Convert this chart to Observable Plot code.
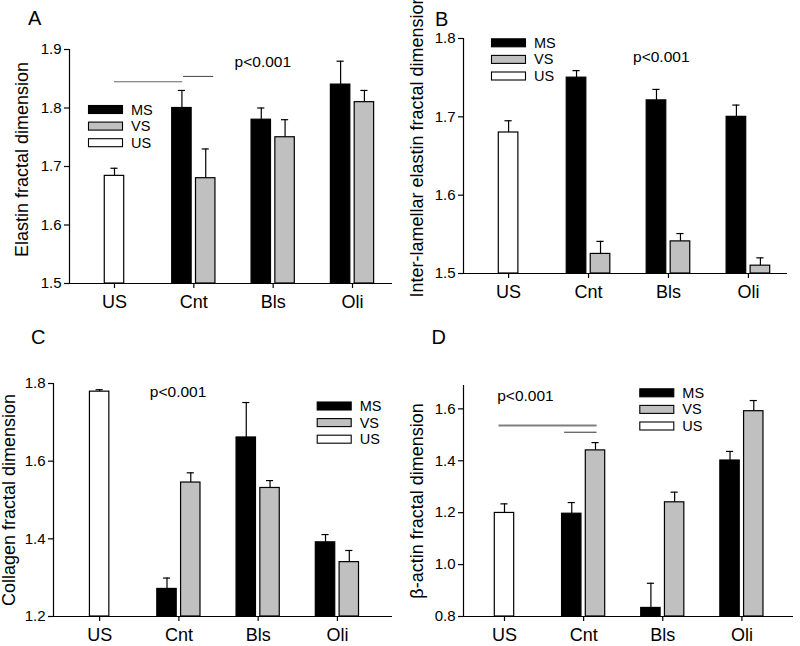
<!DOCTYPE html>
<html><head><meta charset="utf-8">
<script src="https://cdn.jsdelivr.net/npm/d3@7"></script>
<script src="https://cdn.jsdelivr.net/npm/@observablehq/plot@0.6"></script>
<style>
body{margin:0;background:#fff;font-family:"Liberation Sans",Arial,sans-serif;}
#wrap{position:relative;width:800px;height:646px;overflow:hidden;background:#fff;}
.panel{position:absolute;}
#overlay{position:absolute;left:0;top:0;pointer-events:none;}
</style></head><body><div id="wrap"></div>
<script>
// ---------- data ----------
const categories = ["US", "Cnt", "Bls", "Oli"];
const groups = ["MS", "VS", "US"];
const pLabel = "p<0.001";

// Panel A: Elastin
const aUS = 1.684, aUSerr = 1.697;
const aMS = [1.80, 1.78, 1.84], aMSerr = [1.83, 1.80, 1.88];
const aVS = [1.68, 1.75, 1.81], aVSerr = [1.73, 1.78, 1.83];
const aTicks = [1.5, 1.6, 1.7, 1.8, 1.9];
const aSig = [{x1: 0, x2: 0.86, y: 1.845}, {x1: 0.87, x2: 1.25, y: 1.854}];
const aP = {x: 1.87, y: 1.878};

// Panel B: Inter-lamellar elastin
const bUS = 1.680, bUSerr = 1.695;
const bMS = [1.750, 1.721, 1.700], bMSerr = [1.759, 1.735, 1.715];
const bVS = [1.525, 1.541, 1.510], bVSerr = [1.541, 1.551, 1.520];
const bTicks = [1.5, 1.6, 1.7, 1.8];
const bSig = [];
const bP = {x: 1.91, y: 1.776};

// Panel C: Collagen
const cUS = 1.779, cUSerr = 1.784;
const cMS = [1.271, 1.661, 1.391], cMSerr = [1.299, 1.751, 1.411];
const cVS = [1.545, 1.531, 1.340], cVSerr = [1.570, 1.550, 1.370];
const cTicks = [1.2, 1.4, 1.6, 1.8];
const cSig = [];
const cP = {x: 0.99, y: 1.777};

// Panel D: beta-actin
const dUS = 1.199, dUSerr = 1.234;
const dMS = [1.196, 0.833, 1.401], dMSerr = [1.239, 0.928, 1.436];
const dVS = [1.440, 1.240, 1.591], dVSerr = [1.470, 1.279, 1.632];
const dTicks = [0.8, 1.0, 1.2, 1.4, 1.6];
const dSig = [{x1: -0.07, x2: 1.17, y: 1.536}, {x1: 0.76, x2: 1.17, y: 1.51}];
const dP = {x: 0.265, y: 1.651};

// ---------- layout / style ----------
const FONT = '"Liberation Sans", Arial, sans-serif';
const fills = {MS: "#000000", VS: "#c0c0c0", US: "#ffffff"};
const panels = [
  {letter: "A", left: 0, top: 0, mL: 69, mR: 8, mT: 49, mB: 40, xDomain: [-0.567, 3.504], yDomain: [1.5, 1.9],
   us: aUS, usErr: aUSerr, ms: aMS, msErr: aMSerr, vs: aVS, vsErr: aVSerr, ticks: aTicks, sig: aSig, p: aP,
   sigStyle: [{stroke: "#666", w: 1.1}, {stroke: "#444", w: 1}],
   ylabel: "Elastin fractal dimension", labDx: -47, labDy: -7,
   letterPos: [28, 25], legendPos: [88, 105]},
  {letter: "B", left: 400, top: 0, mL: 63, mR: 13, mT: 38, mB: 50, xDomain: [-0.564, 3.489], yDomain: [1.5, 1.8],
   us: bUS, usErr: bUSerr, ms: bMS, msErr: bMSerr, vs: bVS, vsErr: bVSerr, ticks: bTicks, sig: bSig, p: bP,
   sigStyle: [],
   ylabel: "Inter-lamellar elastin fractal dimension", labDx: -46, labDy: -10,
   letterPos: [435, 26], legendPos: [491, 38.3]},
  {letter: "C", left: 0, top: 323, mL: 53, mR: 8, mT: 60, mB: 30, xDomain: [-0.582, 3.695], yDomain: [1.2, 1.8],
   us: cUS, usErr: cUSerr, ms: cMS, msErr: cMSerr, vs: cVS, vsErr: cVSerr, ticks: cTicks, sig: cSig, p: cP,
   sigStyle: [],
   ylabel: "Collagen fractal dimension", labDx: -44, labDy: 0,
   letterPos: [31, 343.5], legendPos: [316.7, 401.5]},
  {letter: "D", left: 400, top: 323, mL: 63, mR: 7, mT: 62, mB: 30, xDomain: [-0.518, 3.652], yDomain: [0.8, 1.69],
   us: dUS, usErr: dUSerr, ms: dMS, msErr: dMSerr, vs: dVS, vsErr: dVSerr, ticks: dTicks, sig: dSig, p: dP,
   sigStyle: [{stroke: "#808080", w: 2}, {stroke: "#333", w: 1}],
   ylabel: "\u03B2-actin fractal dimension", labDx: -46, labDy: 0,
   letterPos: [431.5, 344], legendPos: [639.3, 388.3]}
];

const BW = 0.245, OFF = 0.15, CAP = 0.045;
const wrap = document.getElementById("wrap");

for (const cfg of panels) {
  const y0 = cfg.yDomain[0];
  const usRows = [{x: 0, y: cfg.us, e: cfg.usErr}];
  const msRows = cfg.ms.map((v, i) => ({x: i + 1 - OFF, y: v, e: cfg.msErr[i]}));
  const vsRows = cfg.vs.map((v, i) => ({x: i + 1 + OFF, y: v, e: cfg.vsErr[i]}));
  const all = [...usRows, ...msRows, ...vsRows];
  const bar = (rows, fill) => Plot.rectY(rows, {
    x1: d => d.x - BW / 2, x2: d => d.x + BW / 2, y1: y0, y2: "y",
    fill, stroke: "#000", strokeWidth: 1.2
  });
  const marks = [
    Plot.ruleX(all, {x: "x", y1: "y", y2: "e", stroke: "#000", strokeWidth: 1.2}),
    Plot.ruleY(all, {y: "e", x1: d => d.x - CAP, x2: d => d.x + CAP, stroke: "#000", strokeWidth: 1.2}),
    bar(usRows, fills.US), bar(msRows, fills.MS), bar(vsRows, fills.VS),
    ...cfg.sig.map((s, i) => Plot.ruleY([s], {y: "y", x1: "x1", x2: "x2",
      stroke: cfg.sigStyle[i].stroke, strokeWidth: cfg.sigStyle[i].w})),
    Plot.text([cfg.p], {x: "x", y: "y", text: () => pLabel, fontSize: 15.5, fill: "#000"}),
    Plot.ruleX([cfg.xDomain[0]], {stroke: "#000", strokeWidth: 1.2}),
    Plot.ruleY([y0], {stroke: "#000", strokeWidth: 1.2}),
    Plot.axisY(cfg.ticks, {tickSize: 5, tickPadding: 3, tickFormat: d3.format(".1f"), fontSize: 15,
      label: null, strokeWidth: 1.2}),
    Plot.axisX([0, 1, 2, 3], {tickSize: 5, tickPadding: 7, tickFormat: i => categories[i], fontSize: 18,
      label: null, strokeWidth: 1.2}),
    Plot.text([cfg.ylabel], {frameAnchor: "left", rotate: -90, textAnchor: "middle", lineAnchor: "middle",
      dx: cfg.labDx, dy: cfg.labDy, fontSize: 18, text: d => d, fill: "#000"})
  ];
  const svg = Plot.plot({
    width: 400, height: 323,
    marginLeft: cfg.mL, marginRight: cfg.mR, marginTop: cfg.mT, marginBottom: cfg.mB,
    x: {type: "linear", domain: cfg.xDomain},
    y: {type: "linear", domain: cfg.yDomain},
    style: {fontFamily: FONT, color: "#000", background: "transparent", overflow: "visible"},
    marks
  });
  svg.classList.add("panel");
  svg.style.left = cfg.left + "px";
  svg.style.top = cfg.top + "px";
  wrap.appendChild(svg);
}

// overlay: panel letters and legends
const NS = "http://www.w3.org/2000/svg";
const ov = document.createElementNS(NS, "svg");
ov.setAttribute("id", "overlay");
ov.setAttribute("width", 800);
ov.setAttribute("height", 646);
ov.setAttribute("font-family", FONT);
function el(tag, attrs, text) {
  const e = document.createElementNS(NS, tag);
  for (const k in attrs) e.setAttribute(k, attrs[k]);
  if (text != null) e.textContent = text;
  ov.appendChild(e);
  return e;
}
for (const cfg of panels) {
  el("text", {x: cfg.letterPos[0], y: cfg.letterPos[1], "font-size": 20, fill: "#000"}, cfg.letter);
  const [lx, ly] = cfg.legendPos;
  groups.forEach((g, i) => {
    const yy = ly + i * 16.6;
    el("rect", {x: lx + 0.5, y: yy + 0.5, width: 34, height: 8, fill: fills[g], stroke: "#000", "stroke-width": 1.1});
    el("text", {x: lx + 43, y: yy + 4.5, "font-size": 14.5, "dominant-baseline": "central", fill: "#000"}, g);
  });
}
wrap.appendChild(ov);
</script></body></html>
